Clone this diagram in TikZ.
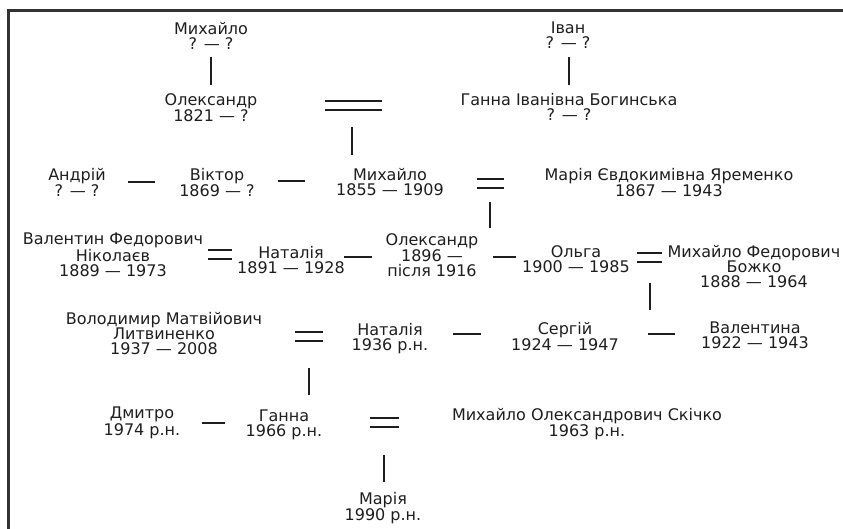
\documentclass[tikz,border=0pt]{standalone}
\usepackage{fontspec}
\usepackage{tikz}
\usepackage{xcolor}
\setmainfont{DejaVu Sans}

\definecolor{ink}{HTML}{1E1E1E}
\definecolor{frame}{HTML}{333333}

\tikzset{
  person/.style={align=center, inner sep=0pt, anchor=north, text=ink,
    font=\fontsize{16}{15}\selectfont},
  link/.style={draw=ink, line width=2pt},
  pics/single/.style={code={\draw[link] (-#1,0) -- (#1,0);}},
  pics/wed/.style={code={\draw[link] (-#1,-4.5) -- (#1,-4.5) (-#1,4.5) -- (#1,4.5);}},
  pics/down/.style={code={\draw[link] (0,-#1) -- (0,#1);}},
}

\begin{document}
\begin{tikzpicture}[x=1pt,y=-1pt]
%\draw[help lines] (0,0) grid[step=50] (843,528);
\useasboundingbox (0,0) rectangle (843,528);
\clip (0,0) rectangle (843,528);
\draw[frame, line width=3pt] (8.5,530) -- (8.5,10.5) -- (845,10.5);

% generation 1
\node[person] (mykh0) at (211,22) {Михайло\\? — ?};
\node[person] (ivan) at (568,22) {Іван\\? — ?};
\coordinate (c1) at (211,71);
\coordinate (c2) at (569,71);
\pic at (c1) {down=14};
\pic at (c2) {down=14};

% generation 2
\node[person] (oleks0) at (211,93) {Олександр\\1821 — ?};
\node[person] (hanna0) at (569,93) {Ганна Іванівна Богинська\\? — ?};
\coordinate (w1) at (353.5,105.5);
\pic at (w1) {wed=28.5};
\coordinate (c3) at (352,141);
\pic at (c3) {down=14};

% generation 3
\node[person] (andrii) at (77,168) {Андрій\\? — ?};
\node[person] (viktor) at (217,168) {Віктор\\1869 — ?};
\node[person] (mykh1) at (390,168) {Михайло\\1855 — 1909};
\node[person] (mariia0) at (669,168) {Марія Євдокимівна Яременко\\1867 — 1943};
\coordinate (s1) at (141.5,182);
\coordinate (s2) at (291.5,181);
\coordinate (w2) at (490.5,183.5);
\coordinate (c4) at (490,215);
\pic at (s1) {single=13.5};
\pic at (s2) {single=13.5};
\pic at (w2) {wed=13.5};
\pic at (c4) {down=13};

% generation 4
\node[person] (valentyn) at (113,233) {Валентин Федорович\\Ніколаєв\\1889 — 1973};
\node[person] (natalia0) at (291,246) {Наталія\\1891 — 1928};
\node[person] (oleks1) at (432,233) {Олександр\\1896 —\\після 1916};
\node[person] (olha) at (576,245) {Ольга\\1900 — 1985};
\node[person] (bozhko) at (754,245) {Михайло Федорович\\Божко\\1888 — 1964};
\coordinate (w3) at (220,254.5);
\coordinate (s3) at (358,257);
\coordinate (s4) at (504.5,257);
\coordinate (w4) at (649.5,257);
\coordinate (c5) at (650,296.5);
\pic at (w3) {wed=12};
\pic at (s3) {single=14};
\pic at (s4) {single=11.5};
\pic at (w4) {wed=12.5};
\pic at (c5) {down=13.5};

% generation 5
\node[person] (lytvyn) at (164,312) {Володимир Матвійович\\Литвиненко\\1937 — 2008};
\node[person] (natalia1) at (390,323) {Наталія\\1936 р.н.};
\node[person] (serhii) at (565,322) {Сергій\\1924 — 1947};
\node[person] (valentyna) at (755,322) {Валентина\\1922 — 1943};
\coordinate (w5) at (309,336);
\coordinate (s5) at (467,334);
\coordinate (s6) at (661.5,334);
\coordinate (c6) at (309,381.5);
\pic at (w5) {wed=14};
\pic at (s5) {single=14};
\pic at (s6) {single=13.5};
\pic at (c6) {down=13.5};

% generation 6
\node[person] (dmytro) at (142,407) {Дмитро\\1974 р.н.};
\node[person] (hanna1) at (284,410) {Ганна\\1966 р.н.};
\node[person] (skichko) at (587,408) {Михайло Олександрович Скічко\\1963 р.н.};
\coordinate (s7) at (213.5,423);
\coordinate (w6) at (384.5,422.5);
\coordinate (c7) at (384,468.5);
\pic at (s7) {single=11.5};
\pic at (w6) {wed=14.5};
\pic at (c7) {down=13.5};

% generation 7
\node[person] (mariia1) at (383,492) {Марія\\1990 р.н.};

\end{tikzpicture}
\end{document}
